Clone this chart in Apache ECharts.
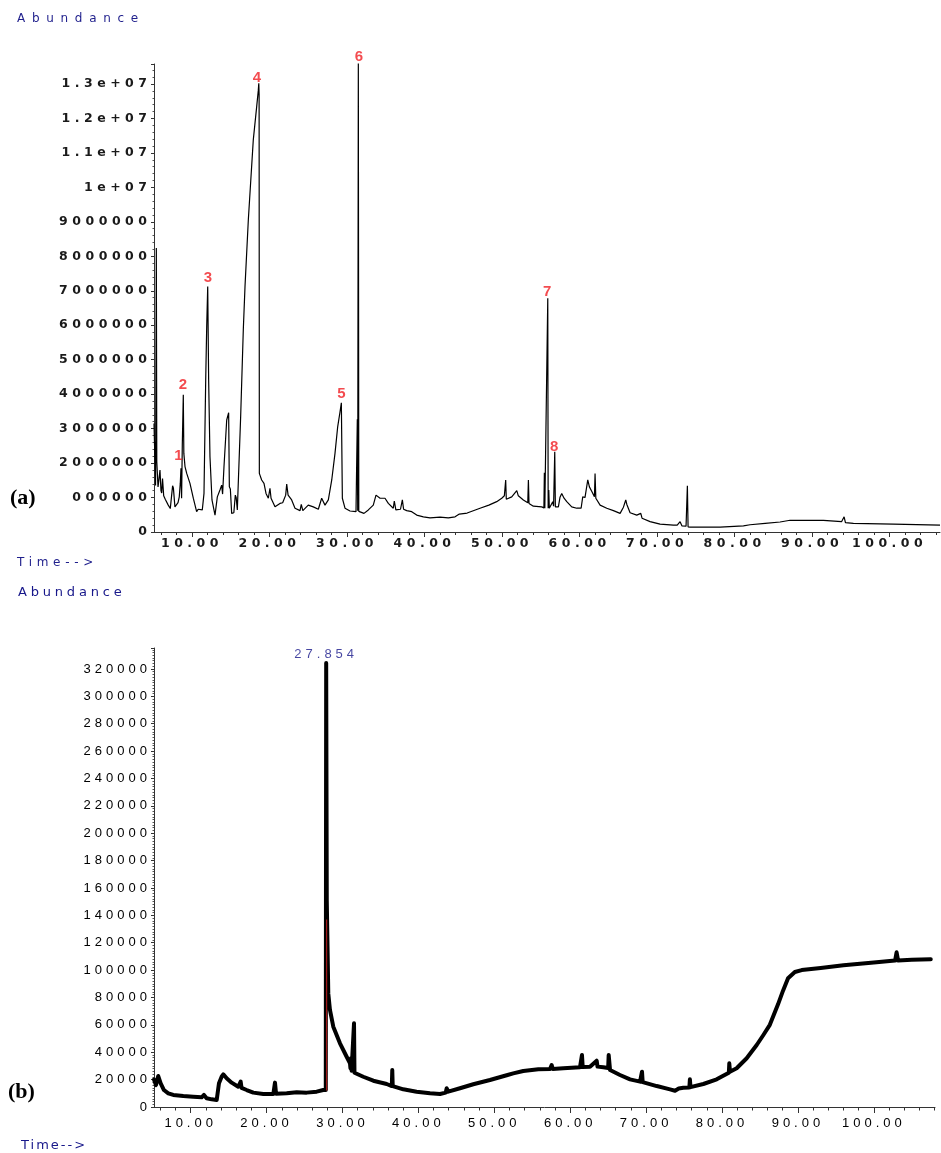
<!DOCTYPE html>
<html><head><meta charset="utf-8">
<script src="https://cdn.jsdelivr.net/npm/echarts@6/dist/echarts.min.js"></script>
<style>html,body{margin:0;padding:0;background:#fff}#c{width:941px;height:1153px}</style>
</head><body><div id="c"></div>
<script>
// ---------- DATA ----------
// Chromatogram (a): retention time (min) and abundance
const timeA = [5.10,5.30,5.40,5.46,5.62,5.75,5.87,6.00,6.09,6.20,6.35,6.55,6.94,7.20,7.38,7.50,7.60,7.80,8.00,8.20,8.36,8.49,8.58,8.66,8.75,8.88,8.95,9.10,9.32,9.74,10.17,10.60,10.80,11.03,11.33,11.55,11.77,11.90,12.03,12.15,12.32,12.58,12.97,13.27,13.61,13.83,13.95,14.13,14.48,14.73,14.82,14.95,15.12,15.40,15.59,15.70,15.85,16.05,16.28,16.62,16.84,17.27,17.91,18.35,18.55,18.62,18.66,18.69,18.77,18.99,19.29,19.55,19.85,20.06,20.20,20.71,21.35,21.70,22.09,22.22,22.40,22.86,23.29,23.94,24.10,24.30,25.00,25.65,26.30,26.73,27.16,27.59,28.03,28.45,28.80,29.10,29.27,29.40,29.74,30.39,31.16,31.30,31.33,31.38,31.46,31.52,31.68,32.19,32.75,33.39,33.74,34.26,34.90,35.33,35.97,36.10,36.30,36.90,37.14,37.30,37.70,38.35,38.99,39.85,40.71,42.00,43.07,43.94,44.49,45.50,47.16,48.30,49.31,49.96,50.30,50.47,50.55,51.25,51.90,52.10,52.75,53.32,53.40,53.48,54.04,55.12,55.40,55.46,55.52,55.90,55.95,56.03,56.10,56.19,56.54,56.65,56.80,56.88,57.27,57.48,57.70,58.00,58.35,58.99,59.64,60.20,60.41,60.70,61.06,61.27,61.60,61.92,62.00,62.10,62.65,63.51,64.37,65.23,65.66,65.96,66.10,66.52,67.38,67.90,68.06,69.10,70.39,72.11,72.60,72.97,73.20,73.74,73.91,74.00,74.26,78.13,78.35,81.14,82.00,83.94,85.87,87.16,91.46,91.68,93.80,94.13,94.30,95.33,100.49,100.71,106.5];
const abundA = [3.15e6,1.35e6,8.24e6,2.04e6,1.31e6,1.55e6,1.80e6,1.20e6,1.13e6,1.55e6,1.05e6,0.95e6,0.78e6,0.68e6,0.64e6,1.34e6,1.28e6,0.73e6,0.78e6,0.85e6,1.02e6,1.41e6,1.85e6,0.98e6,2.52e6,3.98e6,2.28e6,1.90e6,1.70e6,1.41e6,0.98e6,0.59e6,0.66e6,0.64e6,0.64e6,1.12e6,4.41e6,5.96e6,7.12e6,4.41e6,2.19e6,0.93e6,0.49e6,1.02e6,1.22e6,1.36e6,1.10e6,1.90e6,3.25e6,3.46e6,1.31e6,1.25e6,0.54e6,0.56e6,1.07e6,1.00e6,0.64e6,0.64e6,3.35e6,5.86e6,7.12e6,9.06e6,11.38e6,12.35e6,12.80e6,13.02e6,12.70e6,1.70e6,1.70e6,1.51e6,1.41e6,1.12e6,0.98e6,1.27e6,0.98e6,0.73e6,0.83e6,0.85e6,1.07e6,1.39e6,1.07e6,0.93e6,0.69e6,0.62e6,0.80e6,0.62e6,0.78e6,0.73e6,0.66e6,0.98e6,0.78e6,0.93e6,1.51e6,2.28e6,3.06e6,3.49e6,3.75e6,0.98e6,0.69e6,0.61e6,0.59e6,0.60e6,3.27e6,0.62e6,13.61e6,0.60e6,0.59e6,0.54e6,0.64e6,0.78e6,1.07e6,0.98e6,0.98e6,0.83e6,0.69e6,0.90e6,0.64e6,0.66e6,0.93e6,0.66e6,0.62e6,0.59e6,0.49e6,0.44e6,0.41e6,0.43e6,0.41e6,0.44e6,0.52e6,0.55e6,0.69e6,0.78e6,0.88e6,0.98e6,1.05e6,1.51e6,0.95e6,1.02e6,1.20e6,1.05e6,0.93e6,0.85e6,1.51e6,0.83e6,0.75e6,0.73e6,0.70e6,1.72e6,0.69e6,6.78e6,0.69e6,1.22e6,0.69e6,0.69e6,0.88e6,0.75e6,2.33e6,0.73e6,0.73e6,1.01e6,1.12e6,0.98e6,0.88e6,0.73e6,0.69e6,0.69e6,1.02e6,1.00e6,1.51e6,1.31e6,1.17e6,1.02e6,1.70e6,0.98e6,0.78e6,0.69e6,0.62e6,0.54e6,0.72e6,0.93e6,0.80e6,0.56e6,0.49e6,0.54e6,0.40e6,0.30e6,0.23e6,0.20e6,0.20e6,0.30e6,0.18e6,0.17e6,1.34e6,0.15e6,0.14e6,0.14e6,0.18e6,0.18e6,0.21e6,0.25e6,0.29e6,0.34e6,0.34e6,0.30e6,0.30e6,0.44e6,0.27e6,0.25e6,0.23e6,0.20e6,0.20e6];
// numbered peak labels in (a): label text, time, label height
const peakLabelsA = ['1','2','3','4','5','6','7','8'];
const peakTimesA = [8.26,8.84,12.06,18.39,29.29,31.55,55.81,56.71];
const peakLabelLevelA = [2.21e6,4.27e6,7.37e6,13.18e6,4.02e6,13.79e6,6.98e6,2.48e6];
const yTickLabelsA = ['0','000000','2000000','3000000','4000000','5000000','6000000','7000000','8000000','9000000','1e+07','1.1e+07','1.2e+07','1.3e+07'];

// Chromatogram (b)
const timeB = [5.17,5.43,5.73,6.05,6.48,7.05,7.71,9.03,10.34,11.45,11.75,12.10,12.77,13.43,13.60,13.73,14.08,14.30,14.74,15.40,16.27,16.50,16.59,16.70,17.38,18.25,19.57,20.89,21.11,21.25,22.65,23.97,25.28,26.60,27.47,27.70,27.80,27.854,27.93,28.13,28.35,28.79,29.67,30.55,30.99,31.05,31.12,31.20,31.45,31.52,31.58,31.65,32.74,34.06,35.82,36.50,36.56,36.62,38.01,39.77,41.53,42.85,43.60,43.73,43.94,45.48,47.23,49.43,51.63,52.50,53.82,55.80,57.34,57.56,57.70,59.09,61.29,61.55,61.65,62.61,63.49,63.60,64.37,65.00,65.07,65.25,66.56,67.88,69.20,69.46,69.55,71.40,73.15,73.81,74.30,74.90,75.70,75.77,75.85,76.00,77.54,79.30,80.90,80.96,81.05,81.93,83.25,84.57,85.45,86.30,87.38,88.04,88.70,89.60,90.50,93.00,96.00,100.00,102.80,103.00,103.20,105.00,107.50];
const abundB = [20000,16000,22600,17300,12400,10000,8800,8000,7500,7100,8800,6400,5600,5100,5600,17300,22100,23900,21000,17800,14800,14500,18500,14000,12400,10500,9500,9500,17800,9600,10000,10700,10500,11200,12400,11900,12500,324300,151000,83000,70900,58700,46500,36700,31900,28300,35600,26500,25500,61100,25000,24600,22100,19200,16800,15300,27000,15200,12900,11200,10000,9500,10500,13700,11200,13700,16600,19700,23200,24600,26300,27500,27800,30700,27800,28300,29000,38000,29200,29400,33800,29500,29000,28500,38000,27000,23400,20200,18500,25800,18200,15300,12900,11900,13500,14100,14300,20200,14500,14800,16800,20200,25000,31900,25800,28300,35600,45300,52600,60000,75000,85000,94000,98600,100000,101500,103500,105500,107000,113000,107000,107500,108000];
// red integration marker at the main peak of (b)
const markerTimeB = [27.91,27.91];
const markerAbundB = [12000,137000];
const apexLabelB = '27.854';
const apexTimeB = 27.854;
const apexAbundB = 324300;
const yTickLabelsB = ['0','20000','40000','60000','80000','100000','120000','140000','160000','180000','200000','220000','240000','260000','280000','300000','320000'];

const xMajorTicks = [10,20,30,40,50,60,70,80,90,100];

// ---------- letter-spacing helper (family tag lspNN = NN/10 px) ----------
(function(){
  const P = CanvasRenderingContext2D.prototype;
  const of = P.fillText, os = P.strokeText;
  function ap(ctx){ const m = /lsp(\d+)/.exec(ctx.font); try { ctx.letterSpacing = m ? (m[1]/10)+'px' : '0px'; } catch(e){} }
  P.fillText = function(t,x,y,w){ ap(this); return w===undefined ? of.call(this,t,x,y) : of.call(this,t,x,y,w); };
  P.strokeText = function(t,x,y,w){ ap(this); return w===undefined ? os.call(this,t,x,y) : os.call(this,t,x,y,w); };
})();

const X_MIN_A = 5.1, X_MAX_A = 106.5, X_MIN_B = 5.17, X_MAX_B = 108.06;
const minorA = [], minorB = [];
for (let t = 6; t <= 108; t += 2) { if (t % 10) { if (t <= X_MAX_A) minorA.push(t); if (t <= X_MAX_B) minorB.push(t); } }

const famA = '"DejaVu Sans", lsp45';
const famB = '"Liberation Sans", lsp40';

function xMajor(grid, min, max, fam, weight, col, margin, len, size) {
  return { gridIndex: grid, type: 'value', min: min, max: max, position: 'bottom',
    axisLine: { show: true, onZero: false, lineStyle: { color: '#333', width: 1 } },
    splitLine: { show: false },
    axisTick: { show: true, customValues: xMajorTicks, length: len, lineStyle: { color: '#333' } },
    axisLabel: { show: true, customValues: xMajorTicks, formatter: v => v.toFixed(2), margin: margin,
      color: col, fontFamily: fam, fontWeight: weight, fontSize: size } };
}
function xMinor(grid, min, max, ticks, len) {
  return { gridIndex: grid, type: 'value', min: min, max: max, position: 'bottom',
    axisLine: { show: false }, splitLine: { show: false }, axisLabel: { show: false },
    axisTick: { show: true, customValues: ticks, length: len, lineStyle: { color: '#333' } } };
}

const option = {
  animation: false,
  backgroundColor: '#fff',
  grid: [
    { left: 154, top: 64, width: 786, height: 468 },
    { left: 154, top: 648, width: 781, height: 459 }
  ],
  xAxis: [
    xMajor(0, X_MIN_A, X_MAX_A, famA, 'bold', '#1a1a1a', 5, 5, 12.5),
    xMinor(0, X_MIN_A, X_MAX_A, minorA, 3),
    xMajor(1, X_MIN_B, X_MAX_B, famB, 'normal', '#000', 10, 6, 13),
    xMinor(1, X_MIN_B, X_MAX_B, minorB, 3.5)
  ],
  yAxis: [
    { gridIndex: 0, type: 'value', min: 0, max: 13.58e6, interval: 1e6,
      axisLine: { show: true, lineStyle: { color: '#333', width: 1 } },
      splitLine: { show: false },
      axisTick: { show: true, length: 3, lineStyle: { color: '#333' } },
      minorTick: { show: true, splitNumber: 5, length: 1.5, lineStyle: { color: '#555' } },
      axisLabel: { showMaxLabel: false, margin: 2.5, color: '#1a1a1a', fontFamily: famA, fontWeight: 'bold', fontSize: 12.5,
        formatter: v => { const i = Math.round(v / 1e6); return (Math.abs(v - i * 1e6) < 1 && yTickLabelsA[i] !== undefined) ? yTickLabelsA[i] : ''; } } },
    { gridIndex: 1, type: 'value', min: 0, max: 335300, interval: 20000,
      axisLine: { show: true, lineStyle: { color: '#333', width: 1 } },
      splitLine: { show: false },
      axisTick: { show: true, length: 3, lineStyle: { color: '#333' } },
      minorTick: { show: true, splitNumber: 10, length: 1.5, lineStyle: { color: '#555' } },
      axisLabel: { showMaxLabel: false, margin: 3, color: '#000', fontFamily: famB, fontSize: 13,
        formatter: v => { const i = Math.round(v / 20000); return (Math.abs(v - i * 20000) < 1 && yTickLabelsB[i] !== undefined) ? yTickLabelsB[i] : ''; } } }
  ],
  series: [
    { type: 'line', xAxisIndex: 0, yAxisIndex: 0, showSymbol: false, symbol: 'none', silent: true,
      data: timeA.map((t, i) => [t, abundA[i]]),
      lineStyle: { color: '#000', width: 1.2, join: 'bevel' }, z: 3 },
    { type: 'scatter', xAxisIndex: 0, yAxisIndex: 0, symbolSize: 1, clip: false, silent: true,
      itemStyle: { color: 'rgba(0,0,0,0)' },
      data: peakLabelsA.map((s, i) => ({ name: s, value: [peakTimesA[i], peakLabelLevelA[i]] })),
      label: { show: true, position: 'inside', formatter: '{b}', color: '#f01e23',
        fontFamily: '"Liberation Sans Narrow", "Liberation Sans"', fontWeight: 'bold', fontSize: 15 }, z: 5 },
    { type: 'line', xAxisIndex: 2, yAxisIndex: 1, showSymbol: false, symbol: 'none', silent: true,
      data: timeB.map((t, i) => [t, abundB[i]]),
      lineStyle: { color: '#000', width: 4, join: 'round', cap: 'round' }, z: 3 },
    { type: 'line', xAxisIndex: 2, yAxisIndex: 1, showSymbol: false, symbol: 'none', silent: true,
      data: markerTimeB.map((t, i) => [t, markerAbundB[i]]),
      lineStyle: { color: '#a01818', width: 1.2 }, z: 4 },
    { type: 'scatter', xAxisIndex: 2, yAxisIndex: 1, symbolSize: 1, clip: false, silent: true,
      itemStyle: { color: 'rgba(0,0,0,0)' },
      data: [{ name: apexLabelB, value: [apexTimeB, apexAbundB] }],
      label: { show: true, position: 'top', distance: 2, formatter: '{b}', color: '#17178a',
        fontFamily: famB, fontSize: 13 }, z: 5 }
  ],
  graphic: [
    { type: 'text', x: 17, y: 18.5, style: { text: 'Abundance', font: '12px "DejaVu Sans", lsp67', fill: '#1f1f8c', textVerticalAlign: 'middle', verticalAlign: 'middle' } },
    { type: 'text', x: 17, y: 563, style: { text: 'Time-->', font: '12px "DejaVu Sans", lsp47', fill: '#1f1f8c', textVerticalAlign: 'middle', verticalAlign: 'middle' } },
    { type: 'text', x: 18, y: 593, style: { text: 'Abundance', font: '13px "DejaVu Sans", lsp38', fill: '#17178a', textVerticalAlign: 'middle', verticalAlign: 'middle' } },
    { type: 'text', x: 21, y: 1146, style: { text: 'Time-->', font: '13px "DejaVu Sans", lsp20', fill: '#17178a', textVerticalAlign: 'middle', verticalAlign: 'middle' } },
    { type: 'text', x: 10, y: 498, style: { text: '(a)', font: 'bold 22px "Liberation Serif"', fill: '#000', textVerticalAlign: 'middle', verticalAlign: 'middle' } },
    { type: 'text', x: 8, y: 1092, style: { text: '(b)', font: 'bold 22px "Liberation Serif"', fill: '#000', textVerticalAlign: 'middle', verticalAlign: 'middle' } }
  ]
};
const chart = echarts.init(document.getElementById('c'), null, { renderer: 'canvas' });
chart.setOption(option);
</script></body></html>
